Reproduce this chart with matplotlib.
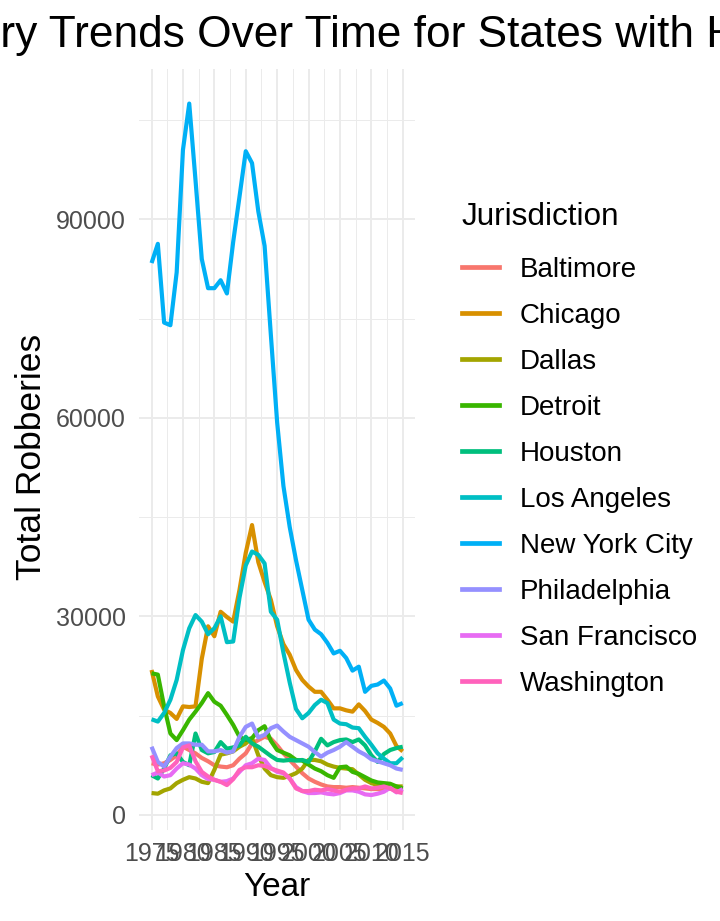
import numpy as np
import matplotlib.pyplot as plt
from matplotlib.lines import Line2D

plt.rcParams['font.family'] = ['Liberation Sans', 'DejaVu Sans']

# Datos: robos totales por jurisdiccion, 1975-2015
years = np.arange(1975, 2016)

baltimore = [7800, 7600, 7800, 8300, 9000, 10300, 9800, 9300, 8600, 8100,
             7500, 7300, 7200, 7500, 8500, 9300, 10800, 11300, 11800, 11500,
             10500, 9300, 8300, 7300, 6300, 5500, 5000, 4600, 4300, 4200,
             4200, 4100, 4200, 4100, 4000, 3900, 3900, 3800, 4000, 3800, 3800]
chicago = [21900, 17900, 15900, 15400, 14500, 16400, 16300, 16400, 23600, 28500,
           27000, 30700, 29900, 29200, 34000, 39600, 43800, 38200, 35200, 32500,
           28500, 25800, 24200, 21900, 20400, 19400, 18600, 18600, 17400, 16100,
           16100, 15800, 15600, 16700, 15700, 14400, 13900, 13300, 12300, 10400, 9600]
dallas = [3300, 3200, 3700, 4000, 4800, 5300, 5700, 5500, 5000, 4800,
          6800, 9100, 9300, 9600, 10300, 10800, 11600, 9000, 7000, 6000,
          5700, 5600, 5900, 6300, 7000, 8300, 8300, 8100, 7600, 7300,
          7100, 7000, 6900, 6100, 5300, 4800, 4500, 4400, 4400, 4300, 4300]
detroit = [21400, 21200, 16400, 12300, 11300, 12800, 14400, 15600, 16900, 18400,
           17100, 16500, 15100, 13600, 11800, 11300, 11600, 12800, 13400, 11200,
           9800, 9400, 9000, 8300, 8200, 7600, 7000, 6600, 6000, 5600,
           7200, 7300, 6500, 6200, 5700, 5200, 4900, 4800, 4700, 4300, 4000]
houston = [6000, 5500, 7000, 9000, 9300, 8000, 7500, 12300, 9800, 9300,
           9500, 11000, 10000, 10200, 10500, 11800, 10800, 10300, 9600, 8900,
           8300, 8200, 8300, 8200, 8300, 8000, 9600, 11500, 10500, 11000,
           11300, 11400, 11000, 11400, 10500, 9000, 8000, 9200, 9800, 10100, 10300]
los_angeles = [14450, 14100, 15400, 17400, 20400, 24900, 28200, 30200, 29200, 27300,
               28200, 30000, 26100, 26200, 32800, 37700, 39800, 39300, 38000, 30700,
               29500, 24500, 20000, 16000, 14600, 15400, 16600, 17400, 16900, 14400,
               13800, 13700, 13200, 13100, 11800, 10600, 9300, 8500, 7800, 7800, 8700]
new_york = [83400, 86300, 74400, 74000, 82000, 100500, 107500, 95900, 84000, 79600,
            79600, 80800, 78800, 86600, 93400, 100300, 98500, 91200, 86000, 72500,
            59300, 49700, 43500, 38500, 34000, 29500, 28000, 27300, 26000, 24400,
            24800, 23700, 21800, 22400, 18600, 19500, 19700, 20300, 19100, 16500, 16900]
philadelphia = [10300, 8000, 7300, 8800, 10100, 10800, 10800, 10600, 10600, 9600,
                9600, 9800, 9400, 9600, 11800, 13300, 13800, 11700, 12100, 13100,
                13500, 12600, 11800, 11300, 10800, 10300, 9500, 8800, 9400, 9800,
                10300, 11000, 10300, 9600, 9100, 8400, 8100, 7800, 7500, 7000, 6800]
san_francisco = [6000, 6400, 5800, 6000, 7000, 7800, 7600, 7000, 6000, 5400,
                 5300, 5000, 5100, 5500, 6500, 7500, 7800, 8500, 8300, 7100,
                 6500, 6300, 5500, 4200, 3600, 3300, 3300, 3400, 3200, 3100,
                 3300, 3700, 3700, 3500, 3100, 3000, 3200, 3500, 4100, 3400, 3900]
washington = [9000, 6600, 6700, 7100, 8000, 10200, 10500, 8100, 6500, 5800,
              5300, 5000, 4500, 5400, 6800, 7200, 7200, 7500, 7400, 7000,
              6700, 6400, 5500, 4000, 3600, 3600, 3800, 3700, 3900, 3700,
              3500, 3800, 4000, 4000, 4300, 4000, 4100, 4300, 4000, 3500, 3300]

names = ['Baltimore', 'Chicago', 'Dallas', 'Detroit', 'Houston',
         'Los Angeles', 'New York City', 'Philadelphia', 'San Francisco', 'Washington']
series = [baltimore, chicago, dallas, detroit, houston,
          los_angeles, new_york, philadelphia, san_francisco, washington]
colors = ['#F8766D', '#D89000', '#A3A500', '#39B600', '#00BF7D',
          '#00BFC4', '#00B0F6', '#9590FF', '#E76BF3', '#FF62BC']

W, H = 720, 921
fig = plt.figure(figsize=(W / 100, H / 100), dpi=100)
ax = fig.add_axes([139 / W, 1 - 829.6 / H, (415.3 - 139) / W, (829.6 - 69) / H])

for vals, c, n in zip(series, colors, names):
    ax.plot(years, vals, color=c, lw=3.0, label=n, solid_capstyle='butt', zorder=3)

# limites tipo ggplot (5% de expansion)
allv = np.concatenate([np.array(s) for s in series])
lo, hi = allv.min(), allv.max()
pad = (hi - lo) * 0.05
ax.set_ylim(lo - pad, hi + pad)
ax.set_xlim(1975 - 2, 2015 + 2)

ax.set_yticks([0, 30000, 60000, 90000])
ax.set_yticks([15000, 45000, 75000, 105000], minor=True)
ax.set_xticks(np.arange(1975, 2016, 5))
ax.set_xticks(np.arange(1977.5, 2015, 5), minor=True)
ax.grid(which='major', color='#EBEBEB', lw=1.4, zorder=0)
ax.grid(which='minor', color='#EBEBEB', lw=0.7, zorder=0)
ax.tick_params(which='both', length=0)
ax.tick_params(axis='y', pad=9.5, labelsize=18, labelcolor='#4D4D4D')
ax.tick_params(axis='x', pad=9, labelsize=18, labelcolor='#4D4D4D')
for s in ax.spines.values():
    s.set_visible(False)

ax.set_xlabel('Year', fontsize=24)
ax.set_ylabel('Total Robberies', fontsize=25.5)
ax.yaxis.set_label_coords(-0.329, 0.49)
ax.xaxis.set_label_coords(0.5, -0.056)

# titulo (sale recortado por los lados, como en el original)
title = 'Robbery Trends Over Time for States with Highest Robberies'
tsize = 31.9
fig.canvas.draw()
r = fig.canvas.get_renderer()
tmp = fig.text(0, 0, 'Robbe', fontsize=tsize)
w = tmp.get_window_extent(renderer=r).width
tmp.remove()
fig.text(-w / W, 1 - 47 / H, title, fontsize=tsize, ha='left', va='baseline')

handles = [Line2D([], [], color=c, lw=3.4) for c in colors]
leg = fig.legend(handles, names, loc='upper left', bbox_to_anchor=(462 / W, 1 - 202 / H),
                 frameon=False, title='Jurisdiction', fontsize=20, title_fontsize=22.7,
                 handlelength=1.33, handletextpad=0.75, labelspacing=0.72,
                 borderaxespad=0, borderpad=0, alignment='left')
# un poco mas de aire entre el titulo de la leyenda y las entradas
leg._legend_box.sep += 3.6

fig.savefig('out.png', dpi=100)
